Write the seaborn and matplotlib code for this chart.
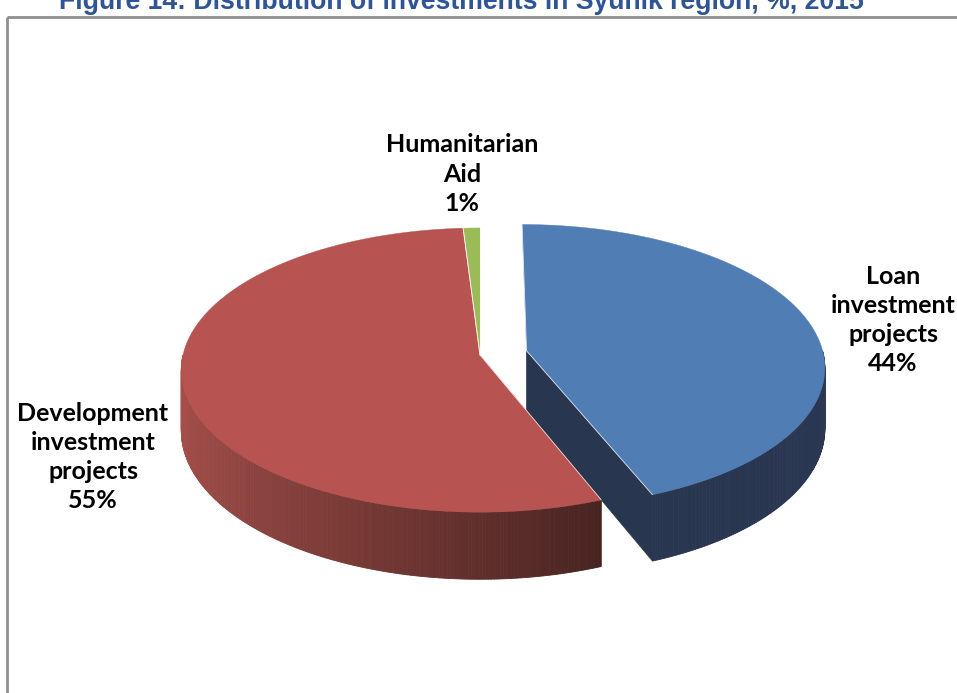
import numpy as np
import matplotlib
matplotlib.use("Agg")
import matplotlib.pyplot as plt
import seaborn as sns

# Investment shares by type, %
categories = ["Humanitarian\nAid", "Development\ninvestment\nprojects", "Loan\ninvestment\nprojects"]
shares = [1, 55, 44]

# Colours of the top faces and of the side walls (light end, dark end)
top_colors = ["#9BBB59", "#B75350", "#507DB4"]
wall_light = [(0.47, 0.58, 0.28), (0.67, 0.32, 0.30), (0.16, 0.21, 0.31)]
wall_dark = [(0.36, 0.45, 0.20), (0.28, 0.14, 0.13), (0.17, 0.22, 0.33)]
explode = [0.0, 0.0, 0.16]

title = "Figure 14: Distribution of investments in Syunik region, %, 2015"

sns.set_theme(style="white")
plt.rcParams["font.family"] = ["Lato", "DejaVu Sans"]

W, H = 957, 693
fig = plt.figure(figsize=(W / 100, H / 100), dpi=100)
ax = fig.add_axes([0, 0, 1, 1])
ax.set_xlim(0, W)
ax.set_ylim(H, 0)
ax.axis("off")

# Perspective view of a tilted disc
CX, CY = 480, 355
RX, RY = 297, 140.5
K = 0.106
DEPTH = 60


def project(u, v, z=0.0):
    d = 1.0 / (1.0 + K * v)
    return CX + RX * u * d, CY - RY * v * d + z * DEPTH * d


def arc(theta1, theta2, ou, ov, z=0.0, n=None):
    if n is None:
        n = max(2, int(abs(theta2 - theta1) * 2))
    t = np.radians(np.linspace(theta1, theta2, n))
    return project(ou + np.cos(t), ov + np.sin(t), z)


def front_ranges(theta1, theta2):
    out = []
    for lo, hi in [(-180, 0), (180, 360), (540, 720)]:
        a, b = max(theta1, lo), min(theta2, hi)
        if b > a:
            out.append((a, b))
    return out


fractions = np.array(shares, dtype=float) / np.sum(shares)
starts = 90 + 360 * np.concatenate([[0], np.cumsum(fractions)[:-1]])
ends = starts + 360 * fractions

slices = []
for i in range(len(shares)):
    mid = np.radians((starts[i] + ends[i]) / 2)
    ou, ov = explode[i] * np.cos(mid), explode[i] * np.sin(mid)
    slices.append((starts[i], ends[i], ou, ov))

# Radial cut faces of the slices that face the viewer
for i, (t1, t2, ou, ov) in enumerate(slices):
    for ang, normal in [(t1, t1 - 90), (t2, t2 + 90)]:
        if np.sin(np.radians(normal)) < -1e-6:
            a = np.radians(ang)
            px0, py0 = project(ou, ov, 0)
            px1, py1 = project(ou + np.cos(a), ov + np.sin(a), 0)
            px2, py2 = project(ou + np.cos(a), ov + np.sin(a), 1)
            px3, py3 = project(ou, ov, 1)
            ax.fill([px0, px1, px2, px3], [py0, py1, py2, py3],
                    color=wall_light[i], lw=0.5, zorder=1)

# Outer side walls, shaded from left to right
for i, (t1, t2, ou, ov) in enumerate(slices):
    for a, b in front_ranges(t1, t2):
        angs = np.linspace(a, b, max(3, int((b - a) * 2)))
        span = max(b - a, 1e-9)
        for j in range(len(angs) - 1):
            s = np.clip((angs[j] - a) / span, 0, 1) ** 1.3
            col = tuple(np.array(wall_light[i]) * (1 - s) + np.array(wall_dark[i]) * s)
            x1, y1 = arc(angs[j], angs[j + 1], ou, ov, 0, 2)
            x2, y2 = arc(angs[j + 1], angs[j], ou, ov, 1, 2)
            ax.fill(np.concatenate([x1, x2]), np.concatenate([y1, y2]),
                    color=col, lw=0.6, zorder=2)

# Top faces, with thin light seams along the radial edges
for i, (t1, t2, ou, ov) in enumerate(slices):
    xs, ys = arc(t1, t2, ou, ov, 0)
    px, py = project(ou, ov, 0)
    ax.fill(np.concatenate([[px], xs]), np.concatenate([[py], ys]),
            facecolor=top_colors[i], edgecolor=top_colors[i], lw=0.3, zorder=3)
    for ang in (t1, t2):
        ex, ey = project(ou + np.cos(np.radians(ang)), ov + np.sin(np.radians(ang)), 0)
        ax.plot([px, ex], [py, ey], color="white", lw=0.6, alpha=0.8, zorder=3.5)

# Slice labels
label_pos = [(462, 174), (93, 457), (893, 320)]
for cat, val, (lx, ly) in zip(categories, shares, label_pos):
    ax.text(lx, ly, f"{cat}\n{val}%", ha="center", va="center",
            multialignment="center", fontsize=18, fontweight="bold",
            color="black", linespacing=1.33, zorder=5)

# Chart frame and heading
ax.plot([7, 7], [H + 5, 17], color="#8f8f8f", lw=2, zorder=4, solid_capstyle="butt")
ax.plot([7, W + 5], [17, 17], color="#8f8f8f", lw=2, zorder=4, solid_capstyle="butt")
ax.text(461, 9, title, ha="center", va="baseline", color="#2F5597",
        fontsize=19.2, fontweight="bold", family=["Liberation Sans", "DejaVu Sans"])

fig.savefig("out.png", dpi=100)
